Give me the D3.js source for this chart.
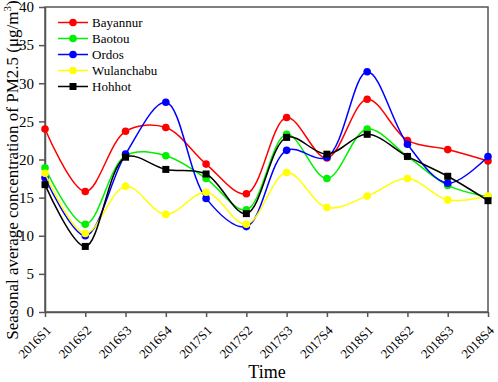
<!DOCTYPE html>
<html>
<head>
<meta charset="utf-8">
<script src="https://cdn.jsdelivr.net/npm/d3@7"></script>
<style>
  body { margin: 0; background: #fff; }
  text { font-family: "Liberation Serif", "Times New Roman", serif; }
</style>
</head>
<body>
<svg id="vis"></svg>
<script>
const WIDTH = 498;
const HEIGHT = 382;

// datos
const periods = ["2016S1", "2016S2", "2016S3", "2016S4", "2017S1", "2017S2",
                 "2017S3", "2017S4", "2018S1", "2018S2", "2018S3", "2018S4"];
const bayannur   = [24.0, 15.8, 23.7, 24.2, 19.4, 15.5, 25.5, 20.2, 27.9, 22.5, 21.3, 19.8];
const baotou     = [18.9, 11.5, 20.5, 20.5, 17.5, 13.4, 23.3, 17.5, 24.0, 20.4, 16.6, 15.1];
const ordos      = [17.6, 10.0, 20.7, 27.5, 14.9, 11.2, 21.2, 20.3, 31.5, 22.0, 16.9, 20.4];
const wulanchabu = [18.2, 10.3, 16.5, 12.8, 15.7, 11.5, 18.3, 13.7, 15.2, 17.5, 14.7, 15.2];
const hohhot     = [16.7, 8.6, 20.3, 18.7, 18.1, 12.9, 22.9, 20.7, 23.3, 20.4, 17.8, 14.6];
const yTicks = [0, 5, 10, 15, 20, 25, 30, 35, 40];

const series = [
    { name: "Bayannur", values: bayannur, color: "#ff0000", shape: "circle" },
    { name: "Baotou", values: baotou, color: "#00f000", shape: "circle" },
    { name: "Ordos", values: ordos, color: "#0000ff", shape: "circle" },
    { name: "Wulanchabu", values: wulanchabu, color: "#ffff00", shape: "circle" },
    { name: "Hohhot", values: hohhot, color: "#000000", shape: "square" },
];

const margin = { left: 45, right: 10, top: 7, bottom: 70 };

const svg = d3.select("#vis")
    .attr("width", WIDTH)
    .attr("height", HEIGHT);

const x = d3.scalePoint().domain(periods).range([margin.left, WIDTH - margin.right]);
const y = d3.scaleLinear().domain([0, 40]).range([HEIGHT - margin.bottom, margin.top]);

// marco
svg.append("rect")
    .attr("x", margin.left)
    .attr("y", margin.top)
    .attr("width", WIDTH - margin.right - margin.left)
    .attr("height", HEIGHT - margin.bottom - margin.top)
    .attr("fill", "none")
    .attr("stroke", "#555")
    .attr("stroke-width", 1.5);

// eje X (etiquetas giradas 45 grados)
const ejeX = svg.append("g")
    .attr("transform", `translate(0, ${HEIGHT - margin.bottom})`)
    .call(d3.axisBottom(x).tickSize(5).tickSizeOuter(0));
ejeX.select(".domain").attr("stroke", "#555").attr("stroke-width", 1.5);
ejeX.selectAll("line").attr("stroke", "#555").attr("stroke-width", 1.5);
ejeX.selectAll("text")
    .attr("font-size", 13)
    .attr("fill", "#000")
    .attr("x", 0)
    .attr("y", 0)
    .attr("text-anchor", "end")
    .attr("transform", "translate(3, 16) rotate(-45)")
    .attr("dy", "0.35em");

// eje Y
const ejeY = svg.append("g")
    .attr("transform", `translate(${margin.left}, 0)`)
    .call(d3.axisLeft(y).tickValues(yTicks).tickSize(6).tickPadding(5).tickSizeOuter(0));
ejeY.select(".domain").attr("stroke", "#555").attr("stroke-width", 1.5);
ejeY.selectAll("line").attr("stroke", "#555").attr("stroke-width", 1.5);
ejeY.selectAll("text").attr("font-size", 15).attr("fill", "#000");

// titulos
svg.append("text")
    .attr("x", 267)
    .attr("y", 378)
    .attr("text-anchor", "middle")
    .attr("font-size", 18)
    .text("Time");

const yTitle = svg.append("text")
    .attr("transform", `translate(18, 170) rotate(-90)`)
    .attr("text-anchor", "middle")
    .attr("font-size", 17);
yTitle.append("tspan").text("Seasonal average concentration of PM2.5 (μg/m");
yTitle.append("tspan").attr("font-size", 11).attr("dy", -7).text("3");
yTitle.append("tspan").attr("dy", 7).text(")");

// lineas suavizadas
const line = d3.line()
    .x((d, i) => x(periods[i]))
    .y(d => y(d))
    .curve(d3.curveCatmullRom.alpha(0.5));

function drawMarker(g, shape, color, cx, cy) {
    if (shape === "square") {
        g.append("rect")
            .attr("x", cx - 3.5).attr("y", cy - 3.5)
            .attr("width", 7).attr("height", 7)
            .attr("fill", color);
    } else {
        g.append("circle")
            .attr("cx", cx).attr("cy", cy).attr("r", 3.8)
            .attr("fill", color);
    }
}

series.forEach(s => {
    const g = svg.append("g");
    g.append("path")
        .attr("d", line(s.values))
        .attr("fill", "none")
        .attr("stroke", s.color)
        .attr("stroke-width", 1.5);
    s.values.forEach((v, i) => drawMarker(g, s.shape, s.color, x(periods[i]), y(v)));
});

// leyenda
const legend = svg.append("g").attr("transform", "translate(58, 22.5)");
series.forEach((s, i) => {
    const row = legend.append("g").attr("transform", `translate(0, ${i * 16})`);
    row.append("line")
        .attr("x1", 0).attr("x2", 30)
        .attr("stroke", s.color)
        .attr("stroke-width", 1.5);
    drawMarker(row, s.shape, s.color, 15, 0);
    row.append("text")
        .attr("x", 34)
        .attr("dy", "0.35em")
        .attr("font-size", 13)
        .text(s.name);
});
</script>
</body>
</html>
